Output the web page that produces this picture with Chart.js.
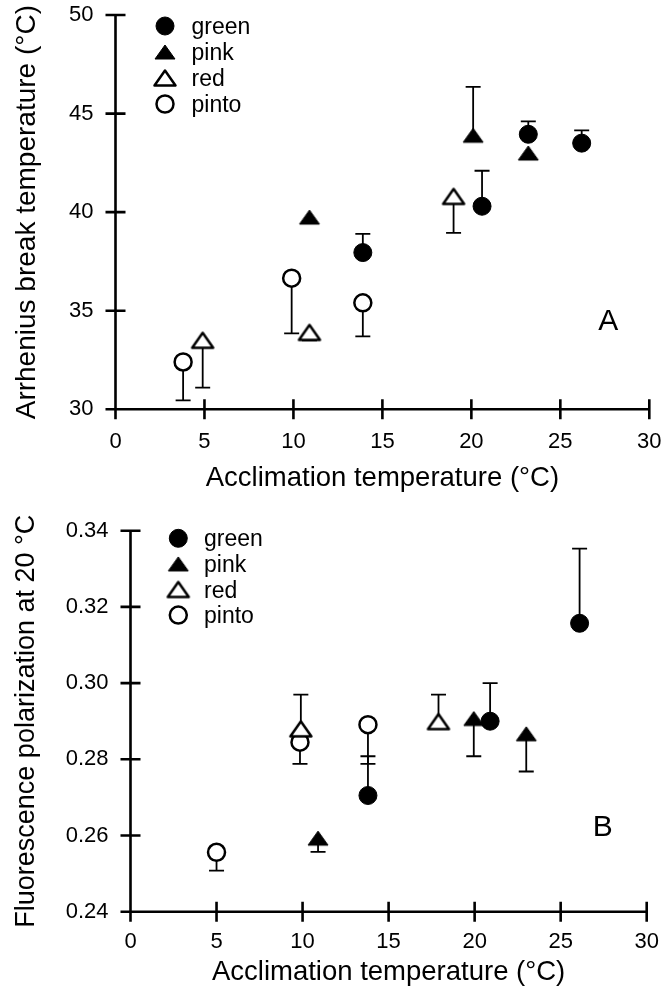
<!DOCTYPE html>
<html>
<head>
<meta charset="utf-8">
<script src="https://cdn.jsdelivr.net/npm/chart.js@4/dist/chart.umd.min.js"></script>
<style>
html,body{margin:0;padding:0;background:#fff;}
#wrap{position:relative;width:665px;height:989px;overflow:hidden;}
.box{position:absolute;left:0;width:665px;}
#boxA{top:0;height:495px;}
#boxB{top:495px;height:494px;}
canvas{display:block;}
</style>
</head>
<body>
<div id="wrap">
  <div class="box" id="boxA"><canvas id="cA" width="665" height="495"></canvas></div>
  <div class="box" id="boxB"><canvas id="cB" width="665" height="494"></canvas></div>
</div>
<script>
// ---------- DATA ----------
const seriesNames = ['green', 'pink', 'red', 'pinto'];

// Panel A: Arrhenius break temperature (°C)
const greenAx = [13.9, 20.6, 23.2, 26.2];
const greenAy = [37.95, 40.3, 43.95, 43.5];
const greenAerr = [38.9, 42.1, 44.6, 44.15];
const pinkAx = [10.9, 20.1, 23.2];
const pinkAy = [39.75, 43.9, 43.0];
const pinkAerr = [null, 46.35, null];
const redAx = [4.9, 10.9, 19.0];
const redAy = [33.5, 33.9, 40.8];
const redAerr = [31.1, 33.5, 38.95];
const pintoAx = [3.8, 9.9, 13.9];
const pintoAy = [32.4, 36.65, 35.4];
const pintoAerr = [30.45, 33.85, 33.7];

// Panel B: Fluorescence polarization at 20 °C
const greenBx = [13.8, 20.9, 26.1];
const greenBy = [0.2705, 0.290, 0.3157];
const greenBerr = [0.2808, 0.300, 0.3353];
const pinkBx = [10.9, 19.95, 23.0];
const pinkBy = [0.2593, 0.2907, 0.2867];
const pinkBerr = [0.2557, 0.2808, 0.2768];
const redBx = [9.9, 17.9];
const redBy = [0.288, 0.2899];
const redBerr = [0.297, 0.297];
const pintoBx = [5.0, 9.85, 13.8];
const pintoBy = [0.2556, 0.2845, 0.2891];
const pintoBerr = [0.2508, 0.2788, 0.2788];

const xTitle = 'Acclimation temperature (°C)';
const yTitleA = 'Arrhenius break temperature (°C)';
const yTitleB = 'Fluorescence polarization at 20 °C';

// ---------- STYLE ----------
const FONT = '"Liberation Sans", Arial, Helvetica, sans-serif';
Chart.defaults.font.family = FONT;
Chart.defaults.color = '#000';

function triImg(w, h, filled, lw) {
  const c = document.createElement('canvas');
  const pad = lw + 1;
  c.width = Math.round(w + 2 * pad);
  c.height = Math.round(h + 2 * pad);
  const g = c.getContext('2d');
  g.beginPath();
  g.moveTo(c.width / 2, pad);
  g.lineTo(c.width - pad, c.height - pad);
  g.lineTo(pad, c.height - pad);
  g.closePath();
  g.fillStyle = filled ? '#000' : '#fff';
  g.fill();
  g.lineWidth = lw;
  g.lineJoin = 'round';
  g.strokeStyle = '#000';
  g.stroke();
  return c;
}
const filledTri = triImg(20, 14, true, 1);
const openTri = triImg(21, 15, false, 2.5);

const markerStyles = [
  { pointStyle: 'circle', pointRadius: 9, pointBorderWidth: 1, pointBackgroundColor: '#000', pointBorderColor: '#000' },
  { pointStyle: filledTri, pointRadius: 10, pointBorderWidth: 0, pointBackgroundColor: '#000', pointBorderColor: '#000' },
  { pointStyle: openTri, pointRadius: 10, pointBorderWidth: 0, pointBackgroundColor: '#fff', pointBorderColor: '#000' },
  { pointStyle: 'circle', pointRadius: 8.5, pointBorderWidth: 2.5, pointBackgroundColor: '#fff', pointBorderColor: '#000' }
];

function makeDatasets(xs, ys, errs) {
  return seriesNames.map((name, i) => Object.assign({
    label: name,
    data: xs[i].map((x, j) => ({ x: x, y: ys[i][j] })),
    errEnd: errs[i],
    showLine: false
  }, markerStyles[i], {
    pointHoverRadius: markerStyles[i].pointRadius,
    pointHoverBorderWidth: markerStyles[i].pointBorderWidth
  }));
}

const axesPlugin = {
  id: 'axesAndErrors',
  beforeDatasetsDraw(chart) {
    const { ctx, chartArea: { left, right, top, bottom }, scales: { x, y } } = chart;
    ctx.save();
    ctx.strokeStyle = '#000';
    ctx.lineCap = 'butt';
    // error bars
    ctx.lineWidth = 1.8;
    chart.data.datasets.forEach((ds, i) => {
      const meta = chart.getDatasetMeta(i);
      ds.errEnd.forEach((e, j) => {
        if (e === null || e === undefined) return;
        const pt = meta.data[j];
        const ey = y.getPixelForValue(e);
        ctx.beginPath();
        ctx.moveTo(pt.x, pt.y);
        ctx.lineTo(pt.x, ey);
        ctx.moveTo(pt.x - 7.5, ey);
        ctx.lineTo(pt.x + 7.5, ey);
        ctx.stroke();
      });
    });
    // axes
    ctx.lineWidth = 2.6;
    ctx.beginPath();
    ctx.moveTo(left, top);
    ctx.lineTo(left, bottom);
    ctx.moveTo(left, bottom);
    ctx.lineTo(right, bottom);
    x.ticks.forEach(t => {
      const px = x.getPixelForValue(t.value);
      ctx.moveTo(px, bottom - 10);
      ctx.lineTo(px, bottom + 10);
    });
    y.ticks.forEach(t => {
      const py = y.getPixelForValue(t.value);
      ctx.moveTo(left - 10, py);
      ctx.lineTo(left + 10, py);
    });
    ctx.stroke();
    ctx.restore();
  }
};

const keyPlugin = {
  id: 'keyAndLetter',
  afterDraw(chart, args, opts) {
    const { ctx, chartArea, scales: { x, y } } = chart;
    ctx.save();
    const x0 = chartArea.left + opts.dx;
    const y0 = chartArea.top + opts.dy;
    chart.data.datasets.forEach((ds, i) => {
      const yy = y0 + i * opts.step;
      ctx.fillStyle = ds.pointBackgroundColor;
      ctx.strokeStyle = ds.pointBorderColor;
      ctx.lineWidth = ds.pointBorderWidth;
      Chart.helpers.drawPoint(ctx, {
        pointStyle: ds.pointStyle, radius: ds.pointRadius,
        borderWidth: ds.pointBorderWidth, rotation: 0
      }, x0, yy);
      ctx.fillStyle = '#000';
      ctx.font = opts.fontSize + 'px ' + FONT;
      ctx.textAlign = 'left';
      ctx.textBaseline = 'alphabetic';
      ctx.fillText(ds.label, x0 + opts.tx, yy + 8);
    });
    ctx.font = '30px ' + FONT;
    ctx.textAlign = 'center';
    ctx.textBaseline = 'middle';
    ctx.fillStyle = '#000';
    ctx.fillText(opts.letter, x.getPixelForValue(opts.lx), y.getPixelForValue(opts.ly));
    ctx.restore();
  }
};

function makeChart(canvas, cfg) {
  return new Chart(canvas, {
    type: 'scatter',
    data: { datasets: cfg.datasets },
    plugins: [axesPlugin, keyPlugin],
    options: {
      responsive: false,
      animation: false,
      events: [],
      layout: { padding: cfg.padding },
      plugins: {
        legend: { display: false },
        tooltip: { enabled: false },
        keyAndLetter: cfg.key
      },
      scales: {
        x: {
          type: 'linear', min: 0, max: 30,
          grid: { display: false, drawTicks: false }, border: { display: false },
          ticks: { stepSize: 5, font: { size: 22 }, padding: cfg.xTickPad, color: '#000', maxRotation: 0 },
          title: { display: true, text: xTitle, font: { size: 27.5 }, color: '#000', padding: { top: 0, bottom: cfg.xTitlePad } },
          afterFit: s => { s.height = cfg.xAxisH; s.paddingLeft = 0; s.paddingRight = 0; }
        },
        y: {
          type: 'linear', min: cfg.ymin, max: cfg.ymax,
          grid: { display: false, drawTicks: false }, border: { display: false },
          ticks: { stepSize: cfg.ystep, font: { size: 22 }, padding: 22, color: '#000', callback: cfg.yfmt },
          title: { display: true, text: cfg.yTitle, font: { size: cfg.yTitleSize }, color: '#000', padding: { top: 10, bottom: 0 } },
          afterFit: s => { s.width = cfg.yAxisW; s.paddingTop = 0; s.paddingBottom = 0; }
        }
      }
    }
  });
}

makeChart(document.getElementById('cA'), {
  datasets: makeDatasets([greenAx, pinkAx, redAx, pintoAx], [greenAy, pinkAy, redAy, pintoAy], [greenAerr, pinkAerr, redAerr, pintoAerr]),
  padding: { top: 15, right: 15.7, left: 0, bottom: 0 },
  xAxisH: 85.7, yAxisW: 115.5, xTickPad: 19.2, xTitlePad: 0,
  ymin: 30, ymax: 50, ystep: 5, yfmt: v => String(v),
  yTitle: yTitleA, yTitleSize: 28,
  key: { dx: 49.5, dy: 11, step: 26, tx: 26.5, fontSize: 23, letter: 'A', lx: 27.7, ly: 34.45 }
});

makeChart(document.getElementById('cB'), {
  datasets: makeDatasets([greenBx, pinkBx, redBx, pintoBx], [greenBy, pinkBy, redBy, pintoBy], [greenBerr, pinkBerr, redBerr, pintoBerr]),
  padding: { top: 35.7, right: 18.3, left: 0, bottom: 0 },
  xAxisH: 77.3, yAxisW: 130.5, xTickPad: 16.8, xTitlePad: 0,
  ymin: 0.24, ymax: 0.34, ystep: 0.02, yfmt: v => Number(v).toFixed(2),
  yTitle: yTitleB, yTitleSize: 27,
  key: { dx: 47.8, dy: 7.6, step: 25.6, tx: 25.7, fontSize: 23, letter: 'B', lx: 27.45, ly: 0.262 }
});
</script>
</body>
</html>
